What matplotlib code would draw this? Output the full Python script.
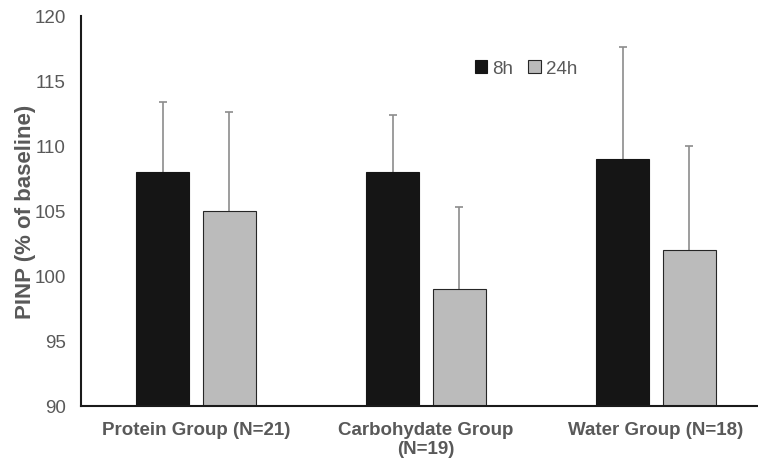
import matplotlib
matplotlib.use("Agg")
import matplotlib.pyplot as plt
import numpy as np

plt.rcParams['font.family'] = ['Liberation Sans', 'DejaVu Sans']

categories = ["Protein Group (N=21)", "Carbohydate Group\n(N=19)", "Water Group (N=18)"]
vals_8h = [108, 108, 109]
err_8h = [5.4, 4.4, 8.6]
vals_24h = [105, 99, 102]
err_24h = [7.6, 6.3, 8.0]
yticks = [90, 95, 100, 105, 110, 115, 120]

fig = plt.figure(figsize=(7.58, 4.6), dpi=100)
ax = fig.add_axes([81/758, 53/460, 690/758, 390/460])

x = np.arange(len(categories))
w = 0.23
off = 0.145
gray_txt = '#595959'
ax.bar(x - off, vals_8h, w, color='#151515', edgecolor='#151515', linewidth=0.8, label='8h', zorder=2)
ax.bar(x + off, vals_24h, w, color='#bbbbbb', edgecolor='#262626', linewidth=0.8, label='24h', zorder=2)
for xs, v, e in [(x - off, vals_8h, err_8h), (x + off, vals_24h, err_24h)]:
    eb = ax.errorbar(xs, v, yerr=[np.zeros(3), e], fmt='none', ecolor='#8c8c8c',
                     elinewidth=1.2, capsize=3, capthick=1.2, zorder=1)
    eb[1][0].set_visible(False)

ax.set_ylim(90, 120)
ax.set_xlim(-0.5, 2.5)
ax.set_yticks(yticks)
ax.set_yticklabels([str(t) for t in yticks], color=gray_txt, fontsize=13.5)
ax.set_xticks(x)
ax.set_xticklabels(categories, color=gray_txt, fontsize=13.5, fontweight='bold', linespacing=1.1)
ax.tick_params(axis='y', length=0, pad=11)
ax.tick_params(axis='x', length=0, pad=11)
for s in ['top', 'right']:
    ax.spines[s].set_visible(False)
for s in ['left', 'bottom']:
    ax.spines[s].set_color('#1a1a1a')
    ax.spines[s].set_linewidth(1.5)
ax.set_ylabel('PINP (% of baseline)', color=gray_txt, fontsize=16, fontweight='bold', labelpad=-1)

leg = ax.legend(loc='upper left', bbox_to_anchor=(0.546, 0.93), ncol=2, frameon=False,
                fontsize=13.5, handlelength=0.65, handleheight=0.65, handletextpad=0.3,
                columnspacing=0.8, labelcolor=gray_txt)

fig.savefig('out.png', dpi=100)
